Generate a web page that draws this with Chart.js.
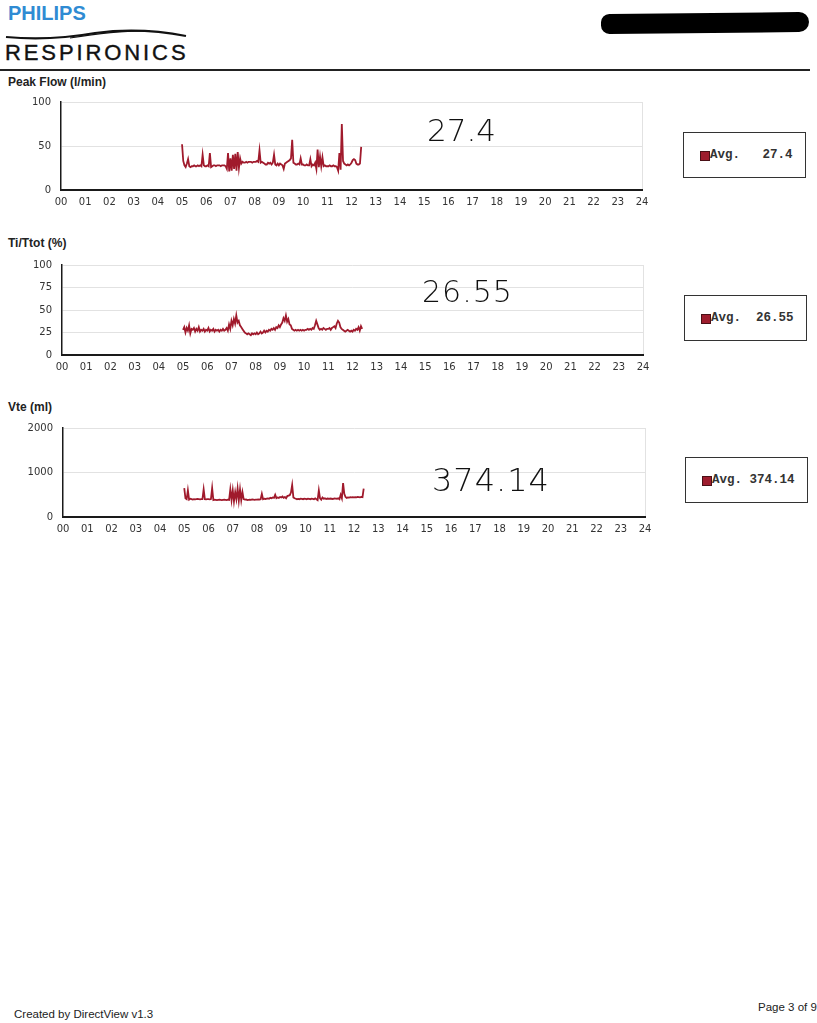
<!DOCTYPE html>
<html>
<head>
<meta charset="utf-8">
<script src="https://cdn.jsdelivr.net/npm/chart.js@4.4.0/dist/chart.umd.min.js"></script>
<style>
  body { margin: 0; background: #fff; width: 817px; height: 1023px; position: relative; overflow: hidden;
         font-family: "Liberation Sans", Arial, sans-serif; color: #222; }
  .abs { position: absolute; white-space: nowrap; }
  canvas { position: absolute; }
  .title { font-size: 12px; font-weight: bold; color: #222; }
  .legend { border: 1px solid #333; width: 123px; height: 46px; box-sizing: border-box; }
  .legend span.sw { position: absolute; left: 16px; top: 18px; width: 8px; height: 8px; background: #9e1d2e; border: 1px solid #4a1016; }
  .legend span.txt { position: absolute; left: 26px; top: 15px; font-family: "Liberation Mono", "Courier New", monospace;
                     font-size: 12.5px; font-weight: bold; color: #333; white-space: pre; }
  .hand { font-family: "DejaVu Sans", sans-serif; font-weight: 200; color: #111; white-space: pre; }
</style>
</head>
<body>
<!-- header -->
<div class="abs" style="left:8px;top:2px;font-size:20px;font-weight:bold;color:#2f8bd3;">PHILIPS</div>
<svg class="abs" style="left:0;top:24px" width="200" height="22">
  <path d="M6 13 Q 50 17 95 9 Q 140 3 186 12" stroke="#111" stroke-width="2.2" fill="none"/>
  <path d="M70 14 Q 120 6 150 7" stroke="#111" stroke-width="1.2" fill="none"/>
</svg>
<div class="abs" style="left:5px;top:40px;font-size:22px;letter-spacing:2.9px;color:#111;-webkit-text-stroke:0.4px #111;">RESPIRONICS</div>
<div class="abs" style="left:601px;top:13px;width:208px;height:20px;background:#000;border-radius:10px 12px 12px 10px;transform:rotate(-0.6deg);"></div>
<div class="abs" style="left:0;top:69px;width:810px;height:1.5px;background:#222;"></div>

<div class="abs title" style="left:8px;top:75px;">Peak Flow (l/min)</div>
<div class="abs title" style="left:8px;top:236px;">Ti/Ttot (%)</div>
<div class="abs title" style="left:8px;top:400px;">Vte (ml)</div>

<canvas id="c1" width="660" height="125" style="left:0;top:86px"></canvas>
<canvas id="c2" width="660" height="127" style="left:0;top:249px"></canvas>
<canvas id="c3" width="660" height="126" style="left:0;top:412px"></canvas>

<div class="abs legend" style="left:683px;top:132px;"><span class="sw"></span><span class="txt" id="l1"></span></div>
<div class="abs legend" style="left:684px;top:295px;"><span class="sw"></span><span class="txt" id="l2"></span></div>
<div class="abs legend" style="left:685px;top:457px;"><span class="sw"></span><span class="txt" id="l3"></span></div>

<div class="abs hand" id="h1" style="left:427px;top:112px;font-size:31px;"></div>
<div class="abs hand" id="h2" style="left:422px;top:274px;font-size:30px;letter-spacing:1px;"></div>
<div class="abs hand" id="h3" style="left:432px;top:461px;font-size:32px;letter-spacing:1px;"></div>

<div class="abs" style="left:14px;top:1008px;font-size:11.5px;color:#222;">Created by DirectView v1.3</div>
<div class="abs" style="left:758px;top:1001px;font-size:11.5px;color:#222;">Page 3 of 9</div>

<script>
// x axis labels, one per hour
const hourLabels = ["00","01","02","03","04","05","06","07","08","09","10","11","12",
                    "13","14","15","16","17","18","19","20","21","22","23","24"];

// samples every 3 minutes starting at 05:00 (one row per hour)
const sampleStart = 5.0;
const sampleStep = 0.05;

const peakFlow = [
  52, 33, 28, 26, 30, 35, 27, 26, 27, 27, 28, 27, 27, 28, 27, 28, 27, 40, 28, 27,
  27, 28, 27, 42, 26, 27, 28, 28, 27, 28, 28, 28, 27, 28, 28, 28, 27, 24, 42, 21,
  36, 22, 40, 24, 41, 22, 43, 25, 36, 30, 32, 31, 31, 32, 31, 32, 32, 32, 31, 32,
  32, 32, 33, 32, 45, 31, 32, 31, 30, 29, 29, 31, 30, 31, 29, 31, 40, 29, 28, 30,
  28, 30, 29, 28, 24, 30, 31, 32, 33, 34, 36, 57, 31, 30, 29, 29, 30, 29, 36, 29,
  29, 28, 28, 29, 28, 28, 35, 27, 29, 28, 31, 24, 46, 26, 38, 27, 37, 27, 28, 27,
  27, 27, 28, 27, 27, 28, 27, 27, 26, 22, 42, 23, 75, 33, 30, 29, 28, 29, 28, 29,
  31, 34, 35, 34, 30, 29, 29, 30, 49
];

const tiTtot = [
  28, 31, 25, 30, 27, 33, 24, 29, 28, 30, 26, 29, 27, 31, 26, 28, 27, 29, 26, 28,
  27, 30, 26, 28, 27, 29, 26, 28, 27, 28, 26, 28, 27, 29, 27, 28, 30, 27, 34, 29,
  38, 33, 40, 35, 44, 36, 38, 33, 31, 29, 27, 25, 24, 23, 24, 23, 22, 24, 23, 24,
  23, 25, 23, 24, 26, 24, 25, 27, 25, 27, 26, 28, 27, 29, 28, 30, 28, 31, 30, 33,
  31, 34, 36, 41, 38, 44, 37, 40, 34, 33, 29, 28, 27, 28, 27, 28, 27, 28, 27, 28,
  27, 28, 28, 29, 28, 29, 28, 30, 29, 33, 38, 34, 30, 28, 29, 28, 30, 29, 28, 29,
  29, 30, 28, 30, 31, 32, 30, 35, 38, 36, 31, 29, 28, 27, 26, 27, 28, 27, 26, 27,
  26, 28, 27, 29, 28, 31, 27, 32, 29
];

const vte = [
  650, 420, 400, 600, 390, 410, 400, 390, 400, 395, 400, 405, 400, 395, 400, 400, 620, 400, 395, 400,
  400, 395, 405, 650, 380, 390, 385, 380, 385, 390, 385, 380, 385, 390, 385, 380, 390, 385, 620, 380,
  600, 350, 560, 400, 640, 370, 620, 380, 560, 400, 390, 395, 380, 385, 390, 385, 395, 390, 385, 390,
  390, 395, 390, 400, 520, 400, 410, 405, 415, 420, 410, 430, 420, 440, 430, 500, 425, 440, 430, 450,
  440, 460, 430, 450, 420, 470, 480, 490, 550, 720, 440, 420, 410, 400, 405, 400, 410, 405, 400, 410,
  405, 400, 410, 405, 400, 410, 405, 400, 420, 400, 380, 600, 420, 390, 440, 410, 420, 405, 415, 410,
  410, 415, 405, 410, 420, 415, 410, 420, 400, 500, 420, 760, 520, 450, 430, 440, 435, 445, 440, 445,
  440, 445, 440, 450, 445, 440, 450, 445, 640
];

// averages printed in the legend boxes and written by hand on the page
const averages = ["27.4", "26.55", "374.14"];
const handNotes = ["27.4", "26.55", "374.14"];

document.getElementById("l1").textContent = "Avg." + averages[0].padStart(7);
document.getElementById("l2").textContent = "Avg." + averages[1].padStart(7);
document.getElementById("l3").textContent = "Avg." + averages[2].padStart(7);
document.getElementById("h1").textContent = handNotes[0];
document.getElementById("h2").textContent = handNotes[1];
document.getElementById("h3").textContent = handNotes[2];

function makeChart(id, values, yMax, yStep, plotLeft, plotRight) {
  const canvas = document.getElementById(id);
  const points = values.map((v, i) => ({ x: sampleStart + i * sampleStep, y: v }));
  return new Chart(canvas.getContext("2d"), {
    type: "line",
    data: {
      datasets: [{
        data: points,
        borderColor: "#a01a2c",
        borderWidth: 1.8,
        pointRadius: 0,
        tension: 0,
        fill: false,
      }],
    },
    options: {
      responsive: false,
      animation: false,
      events: [],
      layout: { padding: { top: 9, right: canvas.width - plotRight, left: 0, bottom: 0 } },
      plugins: { legend: { display: false }, tooltip: { enabled: false } },
      scales: {
        x: {
          type: "linear",
          min: 0,
          max: 24,
          afterFit: (s) => { s.height = 21; },
          border: { color: "#1a1a1a", width: 2 },
          grid: {
            drawTicks: false,
            color: (c) => (c.tick && c.tick.value === 24 ? "#e2e2e2" : "rgba(0,0,0,0)"),
          },
          ticks: {
            stepSize: 1,
            autoSkip: false,
            maxRotation: 0,
            padding: 6,
            color: "#333",
            font: { family: "DejaVu Sans", size: 10 },
            callback: (v) => hourLabels[v],
          },
        },
        y: {
          min: 0,
          max: yMax,
          afterFit: (s) => { s.width = plotLeft; },
          border: { color: "#1a1a1a", width: 1.5 },
          grid: { drawTicks: false, color: "#e2e2e2" },
          ticks: {
            stepSize: yStep,
            padding: 10,
            color: "#333",
            font: { family: "DejaVu Sans", size: 10 },
            callback: (v) => String(v),
          },
        },
      },
    },
  });
}

makeChart("c1", peakFlow, 100, 50, 61, 642);
makeChart("c2", tiTtot, 100, 25, 62, 643);
makeChart("c3", vte, 2000, 1000, 63, 645);
</script>
</body>
</html>
